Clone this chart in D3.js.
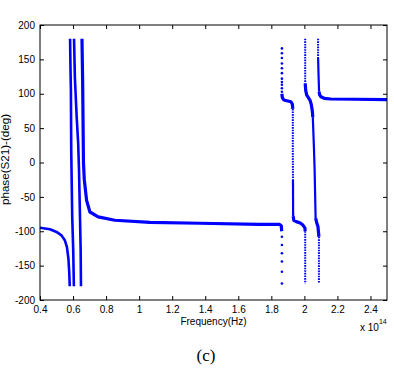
<!DOCTYPE html>
<html>
<head>
<meta charset="utf-8">
<script src="https://cdn.jsdelivr.net/npm/d3@7"></script>
<style>
  html, body { margin: 0; padding: 0; background: #fff; }
  svg text { font-family: "Liberation Sans", Arial, sans-serif; fill: #000; }
</style>
</head>
<body>
<div id="chart"></div>
<script>
// Tick values
const xTicks = [0.4, 0.6, 0.8, 1, 1.2, 1.4, 1.6, 1.8, 2, 2.2, 2.4];
const yTicks = [-200, -150, -100, -50, 0, 50, 100, 150, 200];

// Phase branches: [frequency (x 1e14 Hz), phase (deg)]
const branchA = [[0.40, -95], [0.46, -97], [0.50, -101], [0.53, -106], [0.55, -113], [0.563, -123], [0.572, -140], [0.577, -160], [0.580, -180]];
const branchL1 = [[0.582, 180], [0.585, 130], [0.587, 105], [0.589, 18], [0.595, -79], [0.601, -127], [0.605, -180]];
const branchL2 = [[0.606, 180], [0.611, 124], [0.622, 66], [0.631, 28], [0.636, -10], [0.642, -79], [0.646, -127], [0.648, -180]];
const branchB = [[0.654, 180], [0.658, 120], [0.663, 0], [0.668, -25], [0.682, -55], [0.702, -72], [0.752, -79], [0.853, -84], [1.065, -87], [1.367, -88.4], [1.729, -89.9], [1.85, -90], [1.860, -92], [1.863, -100]];
const branchBdots = [[1.864, -108], [1.864, -120], [1.864, -132], [1.864, -144], [1.864, -159], [1.864, -176]];

const branchCdots = [[1.864, 166], [1.864, 159], [1.864, 152], [1.864, 144], [1.864, 137], [1.864, 130], [1.864, 122], [1.864, 117], [1.864, 113], [1.864, 108], [1.864, 103]];
const branchC1 = [[1.864, 100], [1.866, 95], [1.872, 92], [1.88, 90.5], [1.90, 89.5], [1.918, 88.4], [1.927, 85], [1.930, 78]];
const branchC2 = [[1.930, 78], [1.930, 18], [1.931, -25]];
const branchC3 = [[1.931, -25], [1.932, -78]];
const branchC4 = [[1.932, -78], [1.936, -84], [1.951, -86], [1.975, -88], [1.991, -91], [2.003, -95], [2.005, -100]];
const branchC5 = [[2.005, -100], [2.005, -176]];

const branchD1 = [[2.005, 180], [2.005, 115]];
const branchD2 = [[2.005, 115], [2.008, 105], [2.014, 98], [2.021, 95.7], [2.035, 90], [2.042, 84], [2.048, 75], [2.051, 66]];
const branchD3 = [[2.051, 66], [2.058, 20], [2.062, -11], [2.068, -81]];
const branchD4 = [[2.068, -81], [2.075, -88], [2.082, -93], [2.088, -108]];
const branchD5 = [[2.088, -108], [2.088, -176]];

const branchE1 = [[2.083, 180], [2.083, 152]];
const branchE2 = [[2.083, 152], [2.086, 125], [2.089, 103]];
const branchE3 = [[2.089, 103], [2.093, 98], [2.100, 95.7], [2.12, 93.4], [2.16, 92.4], [2.3, 92], [2.5, 91.5]];

const thickSegments = [branchB, branchC1, branchC4, branchD2, branchD4, branchE3];
const midSegments = [branchA, branchL1, branchL2];
const thinSegments = [branchC3, branchD3, branchE2];
const dottedSegments = [branchC2, branchC5, branchD1, branchD5, branchE1];
const sparseDots = branchBdots.concat(branchCdots);

function drawChart() {
    const W = 394, H = 368;
    const margin = { top: 25, right: 7, bottom: 68, left: 40 };
    const width = W - margin.left - margin.right;
    const height = H - margin.top - margin.bottom;
    const blue = "#0000ff";

    const svg = d3.select("#chart").append("svg")
        .attr("width", W)
        .attr("height", H);

    const g = svg.append("g")
        .attr("transform", `translate(${margin.left},${margin.top})`);

    const x = d3.scaleLinear().domain([0.4, 2.5]).range([0, width]);
    const y = d3.scaleLinear().domain([-200, 200]).range([height, 0]);

    const line = d3.line()
        .x(d => x(d[0]))
        .y(d => y(d[1]));

    const plot = g.append("g");

    function addPaths(cls, data, sw, dash) {
        plot.selectAll("." + cls)
            .data(data)
            .enter().append("path")
            .attr("class", cls)
            .attr("fill", "none")
            .attr("stroke", blue)
            .attr("stroke-width", sw)
            .attr("stroke-linejoin", "round")
            .attr("stroke-dasharray", dash)
            .attr("d", line);
    }

    addPaths("thick", thickSegments, 3.2, null);
    addPaths("mid", midSegments, 2.6, null);
    addPaths("thin", thinSegments, 2.2, null);
    addPaths("dotted", dottedSegments, 2.0, "1.6,1");

    plot.selectAll(".dot")
        .data(sparseDots)
        .enter().append("circle")
        .attr("class", "dot")
        .attr("cx", d => x(d[0]))
        .attr("cy", d => y(d[1]))
        .attr("r", 1.3)
        .attr("fill", blue);

    // Axes (MATLAB style: ticks inside, on all four sides)
    const tick = 4;
    const fmt = d => String(d);

    const xAxis = g.append("g")
        .attr("transform", `translate(0,${height})`)
        .call(d3.axisBottom(x).tickValues(xTicks).tickFormat(fmt).tickSizeInner(-tick).tickSizeOuter(0).tickPadding(6));
    const xTop = g.append("g")
        .call(d3.axisTop(x).tickValues(xTicks).tickFormat("").tickSizeInner(-tick).tickSizeOuter(0));
    const yAxis = g.append("g")
        .call(d3.axisLeft(y).tickValues(yTicks).tickFormat(fmt).tickSizeInner(-tick).tickSizeOuter(0).tickPadding(5));
    const yRight = g.append("g")
        .attr("transform", `translate(${width},0)`)
        .call(d3.axisRight(y).tickValues(yTicks).tickFormat("").tickSizeInner(-tick).tickSizeOuter(0));

    [xAxis, xTop, yAxis, yRight].forEach(a => {
        a.select(".domain").remove();
        a.selectAll("line").attr("stroke", "#000");
        a.selectAll("text")
            .style("font-family", "'Liberation Sans', Arial, sans-serif")
            .style("font-size", "10px")
            .attr("fill", "#000");
    });

    g.append("rect")
        .attr("x", 0)
        .attr("y", 0)
        .attr("width", width)
        .attr("height", height)
        .attr("fill", "none")
        .attr("stroke", "#000")
        .attr("stroke-width", 1);

    // Labels
    g.append("text")
        .attr("x", x(1.45))
        .attr("y", height + 24.5)
        .attr("text-anchor", "middle")
        .style("font-size", "10px")
        .text("Frequency(Hz)");

    g.append("text")
        .attr("transform", `translate(${-31},${height / 2 - 3}) rotate(-90)`)
        .attr("text-anchor", "middle")
        .attr("textLength", 91)
        .attr("lengthAdjust", "spacingAndGlyphs")
        .style("font-size", "10.5px")
        .text("phase(S21)-(deg)");

    const expo = g.append("text")
        .attr("x", width - 27)
        .attr("y", height + 31)
        .style("font-size", "10px");
    expo.append("tspan").text("x 10");
    expo.append("tspan")
        .attr("dy", -7)
        .style("font-size", "7px")
        .text("14");

    svg.append("text")
        .attr("x", 206)
        .attr("y", 361)
        .attr("text-anchor", "middle")
        .style("font-family", "'Liberation Serif', 'DejaVu Serif', serif")
        .style("font-size", "17px")
        .text("(c)");
}

drawChart();
</script>
</body>
</html>
